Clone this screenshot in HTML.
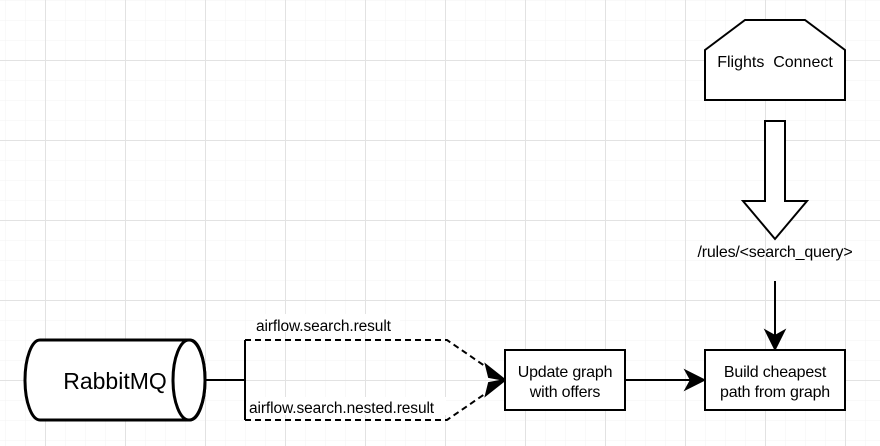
<!DOCTYPE html>
<html><head><style>
html,body{margin:0;padding:0;background:#fff;}
svg{display:block;}
text{font-family:"Liberation Sans",sans-serif;fill:#000;white-space:pre;}
</style></head><body>
<svg width="880" height="446" viewBox="0 0 880 446" xmlns="http://www.w3.org/2000/svg">
<defs>
<pattern id="minor" x="5" y="0" width="20" height="20" patternUnits="userSpaceOnUse">
<path d="M0 0V20M0 0H20" stroke="#f3f3f3" stroke-width="1" fill="none"/>
</pattern>
<pattern id="major" x="45" y="60" width="80" height="80" patternUnits="userSpaceOnUse">
<path d="M0.5 0V80M0 0.5H80" stroke="#e2e2e2" stroke-width="1" fill="none"/>
</pattern>
</defs>
<rect width="880" height="446" fill="url(#minor)"/>
<rect width="880" height="446" fill="url(#major)"/>

<polygon points="705,50 745,20 805,20 845,50 845,100 705,100" fill="#fff" stroke="#000" stroke-width="2"/>
<text x="775" y="67" font-size="16" text-anchor="middle" xml:space="preserve">Flights  Connect</text>

<polygon points="765,121 785,121 785,201 807,201 775,239 743,201 765,201" fill="#fff" stroke="#000" stroke-width="2"/>
<text x="775" y="257" font-size="16" text-anchor="middle" letter-spacing="-0.2">/rules/&lt;search_query&gt;</text>

<line x1="775" y1="281" x2="775" y2="338" stroke="#000" stroke-width="2"/>
<polygon points="775,349 766,331 775,336 784,331" fill="#000" stroke="#000" stroke-width="2"/>

<rect x="705" y="350" width="140" height="60" fill="#fff" stroke="#000" stroke-width="2"/>
<text x="775" y="377" font-size="16" text-anchor="middle" letter-spacing="-0.2">Build cheapest</text>
<text x="775" y="397" font-size="16" text-anchor="middle" letter-spacing="-0.2">path from graph</text>

<rect x="505" y="350" width="120" height="60" fill="#fff" stroke="#000" stroke-width="2"/>
<text x="565" y="377" font-size="16" text-anchor="middle" letter-spacing="-0.2">Update graph</text>
<text x="565" y="397" font-size="16" text-anchor="middle" letter-spacing="-0.2">with offers</text>

<line x1="625" y1="380" x2="694" y2="380" stroke="#000" stroke-width="2"/>
<polygon points="704,380 686,371 691,380 686,389" fill="#000" stroke="#000" stroke-width="2"/>

<path d="M40,340 H190 A15,40 0 0 1 190,420 H40 A15,40 0 0 1 40,340 Z" fill="#fff" stroke="#000" stroke-width="3"/>
<ellipse cx="189" cy="380" rx="16" ry="40" fill="#fff" stroke="#000" stroke-width="3"/>
<text x="115" y="389" font-size="23" text-anchor="middle">RabbitMQ</text>

<line x1="205" y1="380" x2="245" y2="380" stroke="#000" stroke-width="2"/>
<line x1="245" y1="340" x2="245" y2="420" stroke="#000" stroke-width="2"/>
<path d="M245,340 H447 L495,373" fill="none" stroke="#000" stroke-width="2" stroke-dasharray="6,4"/>
<path d="M245,420 H447 L495,387" fill="none" stroke="#000" stroke-width="2" stroke-dasharray="6,4"/>
<polygon points="505,380 486,365 489,377" fill="#000" stroke="#000" stroke-width="2"/>
<polygon points="505,380 486,395 489,383" fill="#000" stroke="#000" stroke-width="2"/>

<rect x="254" y="314" width="146" height="18" fill="#fff"/>
<text x="256" y="331" font-size="15.5" letter-spacing="-0.1">airflow.search.result</text>
<rect x="247" y="397" width="199" height="18" fill="#fff"/>
<text x="249" y="413" font-size="15.5" letter-spacing="-0.1">airflow.search.nested.result</text>
</svg>
</body></html>
